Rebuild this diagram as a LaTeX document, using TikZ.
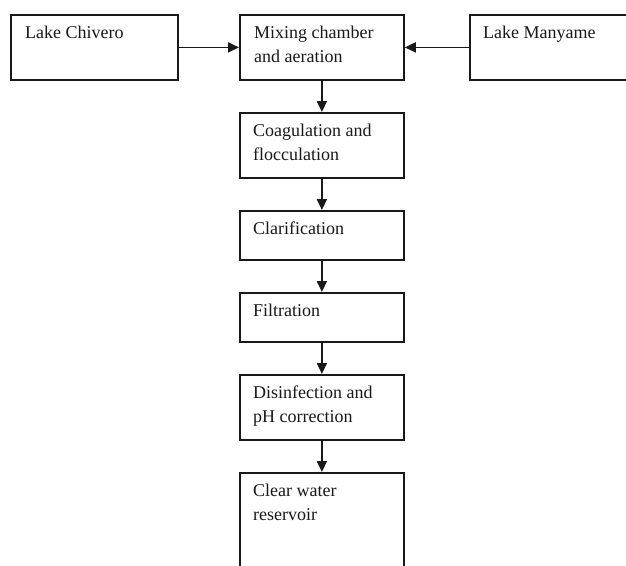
\documentclass[tikz,border=0pt]{standalone}
\usepackage{fontspec}
\setmainfont{Liberation Serif}
\usetikzlibrary{arrows.meta,calc}
\begin{document}
\begin{tikzpicture}[x=1pt,y=-1pt,
  box/.style={draw=black!90,line width=1.8pt,rectangle,inner sep=0pt,anchor=north west,minimum width=164pt,minimum height=#1},
  box/.default=65pt,
  txt/.style={anchor=north west,inner sep=0pt,align=left,font=\fontsize{18}{24}\selectfont,text=black!90},
  arr/.style={line width=1.8pt,draw=black!90,-{Triangle[length=11pt,width=10pt]}}]
\clip (0,0) rectangle (626,565);
\fill[white] (0,0) rectangle (626,565);
% boxes
\node[box,minimum width=167pt] (chiv) at (10,14) {};
\node[box] (mix) at (239,14) {};
\node[box,minimum width=175pt] (many) at (469,14) {};
\node[box] (coag) at (239,112) {};
\node[box=49pt] (clar) at (239,210) {};
\node[box=49pt] (filt) at (239,292) {};
\node[box] (dis) at (239,374) {};
\node[box=108pt] (res) at (239,472) {};
% texts
\newcommand{\fstrut}{\rule{0pt}{18pt}}
\node[txt] (chivT) at ($(chiv.north west)+(15,6)$) {\fstrut Lake Chivero};
\node[txt] (mixT) at ($(mix.north west)+(15,6)$) {\fstrut Mixing chamber\\and aeration};
\node[txt] (manyT) at ($(many.north west)+(14,6)$) {\fstrut Lake Manyame};
\node[txt] (coagT) at ($(coag.north west)+(14,6)$) {\fstrut Coagulation and\\flocculation};
\node[txt] (clarT) at ($(clar.north west)+(14,6)$) {\fstrut Clarification};
\node[txt] (filtT) at ($(filt.north west)+(14,6)$) {\fstrut Filtration};
\node[txt] (disT) at ($(dis.north west)+(14,6)$) {\fstrut Disinfection and\\pH correction};
\node[txt] (resT) at ($(res.north west)+(14,6)$) {\fstrut Clear water\\reservoir};
% connectors
\draw[arr] (chiv.east) -- (mix.west);
\draw[arr] (many.west) -- (mix.east);
\draw[arr] (mix.south) -- (coag.north);
\draw[arr] (coag.south) -- (clar.north);
\draw[arr] (clar.south) -- (filt.north);
\draw[arr] (filt.south) -- (dis.north);
\draw[arr] (dis.south) -- (res.north);
\end{tikzpicture}
\end{document}
